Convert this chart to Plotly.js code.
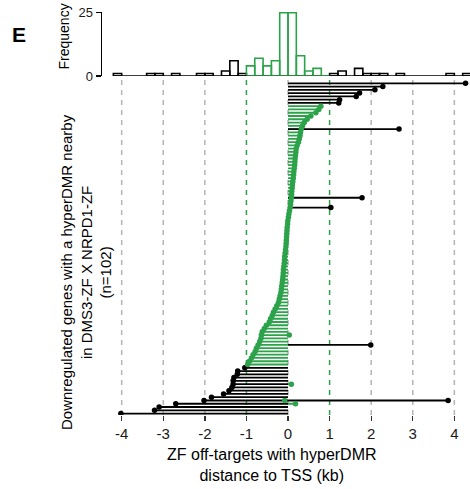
<!DOCTYPE html>
<html><head><meta charset="utf-8">
<script src="https://cdn.plot.ly/plotly-3.0.1.min.js"></script>
<style>html,body{margin:0;padding:0;background:#fff}#chart{width:470px;height:489px}</style>
</head><body><div id="chart"></div>
<script>
// Distance (kb) from the hyperDMR to the TSS, one value per gene row (top row first)
const rowDistances = [
  4.27, 2.28, 2.09, 1.72, 1.64, 1.24, 1.22,
  0.79, 0.74, 0.67, 0.55, 0.46, 0.39, 0.35, 0.32, 0.30, 0.29, 0.27, 0.25, 0.22,
  0.195, 0.19, 0.18, 0.17, 0.165, 0.16, 0.15, 0.14, 0.135, 0.125, 0.115, 0.105, 0.10, 0.09, 0.085, 0.08, 0.07, 0.06, 0.05, 0.035, 0.02, 0.01,
  -0.005, -0.01, -0.02, -0.025, -0.03, -0.035, -0.04, -0.045, -0.05, -0.06, -0.07, -0.08, -0.085, -0.09, -0.10, -0.11, -0.115, -0.12, -0.13, -0.14, -0.15, -0.16, -0.17, -0.19,
  -0.21, -0.23, -0.27, -0.31, -0.35, -0.38,
  -0.42, -0.45, -0.52, -0.57,
  -0.62, -0.64, -0.65, -0.68, -0.72, -0.76, -0.79,
  -0.84, -0.88, -0.93, -0.97,
  -1.04, -1.21, -1.22, -1.30, -1.32, -1.32, -1.35, -1.42, -1.55, -1.84, -2.02, -2.70, -3.10, -3.21, -4.02
];
// Additional off-targets on some gene rows (row index, distance kb)
const extraRows = [14, 35, 38, 77, 80, 92, 97, 97, 98];
const extraDistances = [2.67, 1.78, 1.03, 0.03, 1.99, 0.08, 3.85, -0.08, 0.18];

const nearThreshold = 1;           // kb, green window
const tickVals = [-4, -3, -2, -1, 0, 1, 2, 3, 4];
const tickText = ['-4', '-3', '-2', '-1', '0', '1', '2', '3', '4'];
const freqTicks = [0, 25];
const binStart = -4.2, binEnd = 4.4, binSize = 0.2;

const GREEN = '#2ca24a', BLACK = '#000000', GRAY = '#b5b5b5';
const W = 470, H = 489, L = 102;
const px = x => (x - L) / (W - L);
const py = y => (H - y) / H;

// collect all points
const pts = rowDistances.map((d, i) => ({row: i, d}));
extraRows.forEach((r, i) => pts.push({row: r, d: extraDistances[i]}));
const near = p => Math.abs(p.d) <= nearThreshold;

function lineTrace(sel, color) {
  const x = [], y = [];
  pts.filter(sel).forEach(p => { x.push(0, p.d, null); y.push(p.row, p.row, null); });
  return {type: 'scatter', mode: 'lines', x, y, xaxis: 'x', yaxis: 'y',
    line: {color, width: 1.8}, hoverinfo: 'skip', showlegend: false};
}
function dotTrace(sel, color) {
  const s = pts.filter(sel);
  return {type: 'scatter', mode: 'markers', x: s.map(p => p.d), y: s.map(p => p.row),
    xaxis: 'x', yaxis: 'y', marker: {color, size: 5.5}, hoverinfo: 'skip', showlegend: false};
}
function histTrace(sel, color) {
  return {type: 'histogram', x: pts.filter(sel).map(p => p.d), xaxis: 'x2', yaxis: 'y2',
    xbins: {start: binStart, end: binEnd, size: binSize}, autobinx: false,
    marker: {color: 'rgba(0,0,0,0)', line: {color, width: 1.6}},
    hoverinfo: 'skip', showlegend: false};
}
const baseBlack = {type: 'scatter', mode: 'lines', x: [binStart, binEnd], y: [0, 0], xaxis: 'x2', yaxis: 'y2',
  line: {color: BLACK, width: 1.6}, hoverinfo: 'skip', showlegend: false};
const baseGreen = {type: 'scatter', mode: 'lines', x: [-nearThreshold, nearThreshold], y: [0, 0], xaxis: 'x2', yaxis: 'y2',
  line: {color: GREEN, width: 1.6}, hoverinfo: 'skip', showlegend: false};

const data = [
  lineTrace(near, GREEN), lineTrace(p => !near(p), BLACK),
  dotTrace(p => !near(p), BLACK), dotTrace(near, GREEN),
  baseBlack, baseGreen,
  histTrace(p => !near(p), BLACK), histTrace(near, GREEN)
];

const shapes = tickVals.map(v => ({
  type: 'line', xref: 'x', yref: 'y domain', x0: v, x1: v, y0: 0, y1: 1, layer: 'below',
  line: {color: Math.abs(v) === nearThreshold ? GREEN : GRAY, width: 1.5, dash: '5px,5px'}
}));

const font = 'Liberation Sans, Arial, sans-serif';
const xRange = [-4.4735, 4.3765];
const layout = {
  width: W, height: H, margin: {l: L, r: 0, t: 0, b: 0},
  paper_bgcolor: '#fff', plot_bgcolor: 'rgba(0,0,0,0)',
  barmode: 'overlay', bargap: 0, showlegend: false,
  font: {family: font, color: '#000'},
  xaxis: {domain: [0, 1], range: xRange, anchor: 'y', tickvals: tickVals, ticktext: tickText,
    ticks: 'outside', ticklen: 5, tickwidth: 1.3, tickcolor: '#333', showline: false,
    showgrid: false, zeroline: false, tickfont: {family: font, size: 15, color: '#1a1a1a'}},
  yaxis: {domain: [py(415), py(79.5)], range: [101.44, -1.162], visible: false, showgrid: false, zeroline: false},
  xaxis2: {domain: [0, 1], range: xRange, anchor: 'y2', visible: false, showgrid: false, zeroline: false},
  yaxis2: {domain: [py(76), py(11.9)], range: [0, 25.3], anchor: 'x2', showline: true, linecolor: '#000',
    linewidth: 1.5, ticks: 'outside', ticklen: 5, tickwidth: 1.3, tickcolor: '#000', tickvals: freqTicks,
    showgrid: false, zeroline: false, tickfont: {family: font, size: 13, color: '#1a1a1a'}},
  shapes,
  annotations: [
    {text: '<b>E</b>', xref: 'paper', yref: 'paper', x: px(19), y: py(34), showarrow: false,
      xanchor: 'center', yanchor: 'middle', font: {family: font, size: 21, color: '#000'}},
    {text: 'Frequency', xref: 'paper', yref: 'paper', x: px(63), y: py(36.5), showarrow: false, textangle: -90,
      xanchor: 'center', yanchor: 'middle', font: {family: font, size: 14, color: '#000'}},
    {text: 'Downregulated genes with a hyperDMR nearby<br>in DMS3-ZF X NRPD1-ZF<br>(n=102)', xref: 'paper', yref: 'paper',
      x: px(86), y: py(272), showarrow: false, textangle: -90, xanchor: 'center', yanchor: 'middle',
      font: {family: font, size: 15, color: '#000'}},
    {text: 'ZF off-targets with hyperDMR<br>distance to TSS (kb)', xref: 'paper', yref: 'paper',
      x: px(272), y: py(465), showarrow: false, xanchor: 'center', yanchor: 'middle',
      font: {family: font, size: 16, color: '#000'}}
  ]
};

Plotly.newPlot('chart', data, layout, {staticPlot: true, displayModeBar: false});
</script></body></html>
